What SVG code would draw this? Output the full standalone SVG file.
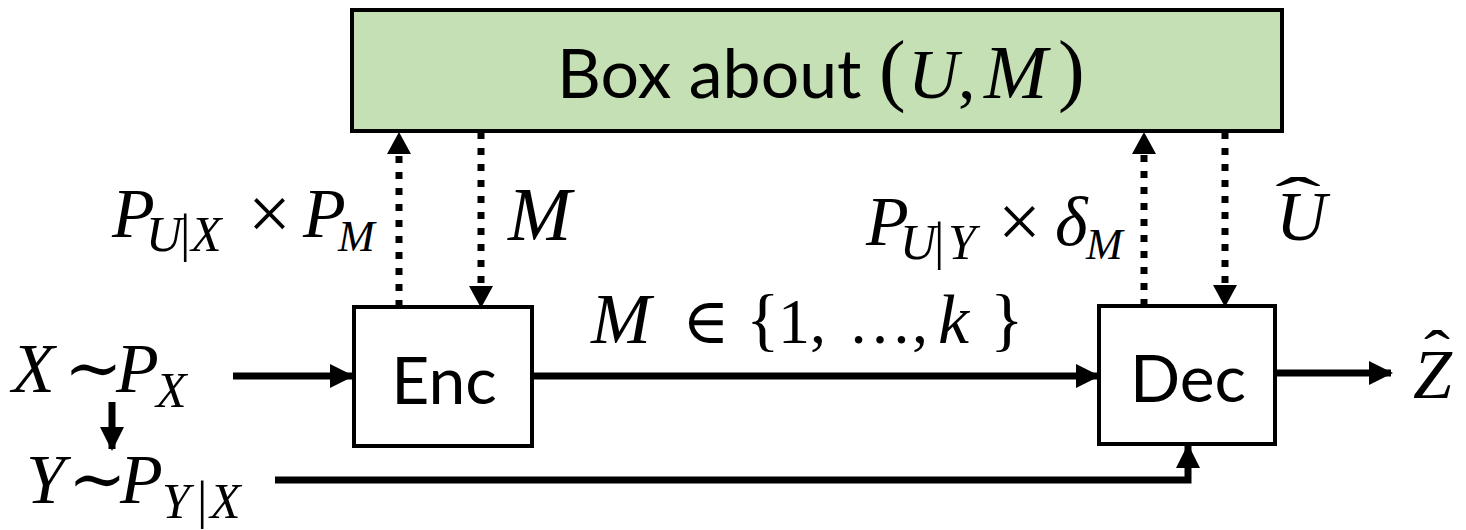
<svg xmlns="http://www.w3.org/2000/svg" width="1466" height="530" viewBox="0 0 1466 530">
<defs>
<style>
.box{fill:#ffffff;stroke:#000;stroke-width:4}
.sans{font-family:"Lato","Open Sans","DejaVu Sans",sans-serif;fill:#000}
.m{font-family:"Liberation Serif","DejaVu Serif",serif;font-style:italic;fill:#000}
.up{font-family:"Liberation Serif","DejaVu Serif",serif;font-style:normal;fill:#000}
.solid{stroke:#000;stroke-width:7;fill:none}
.dot{stroke:#000;stroke-width:7;fill:none;stroke-dasharray:7 9}
</style>
<marker id="ah" viewBox="0 0 24 24" refX="22" refY="12" markerWidth="24" markerHeight="24" markerUnits="userSpaceOnUse" orient="auto">
<path d="M0,0 L24,12 L0,24 Z" fill="#000"/>
</marker>
<marker id="ahd" viewBox="0 0 22 24" refX="21" refY="12" markerWidth="22" markerHeight="24" markerUnits="userSpaceOnUse" orient="auto">
<path d="M0,0 L22,12 L0,24 Z" fill="#000"/>
</marker>
</defs>

<g id="box-about">
<rect x="352" y="10" width="930" height="121" fill="#c5e0b4" stroke="#000" stroke-width="4"/>
<text x="557" y="98" class="sans" font-size="68">Box about</text>
<text x="879" y="96" class="up" font-size="80">(</text>
<text x="908" y="98" class="m" font-size="70">U</text>
<text x="958" y="98" class="up" font-size="70">,</text>
<text x="984" y="98" class="m" font-size="76">M</text>
<text x="1058" y="96" class="up" font-size="80">)</text>
</g>

<g id="enc">
<rect x="354" y="307" width="178" height="139" class="box"/>
<text x="444" y="404" class="sans" font-size="66" text-anchor="middle">Enc</text>
</g>

<g id="dec">
<rect x="1099" y="306" width="176" height="138" class="box"/>
<text x="1188" y="402" class="sans" font-size="66" text-anchor="middle">Dec</text>
</g>

<g id="source">
<text x="12" y="392" class="m" font-size="70">X</text>
<text x="64" y="392" class="up" font-size="70">∼</text>
<text x="116" y="392" class="m" font-size="70">P</text>
<text x="156" y="407" class="m" font-size="50">X</text>
</g>

<g id="side">
<text x="26" y="503" class="m" font-size="70">Y</text>
<text x="68" y="503" class="up" font-size="70">∼</text>
<text x="120" y="503" class="m" font-size="70">P</text>
<text x="162" y="518" class="m" font-size="50">Y</text>
<text x="197" y="518" class="up" font-size="52">|</text>
<text x="210" y="518" class="m" font-size="50">X</text>
</g>

<g id="output">
<text x="1413" y="398" class="m" font-size="70">Z</text>
<text transform="translate(1424,371) scale(1.3,1)" class="up" font-size="60">ˆ</text>
</g>

<g id="connectors">
<line x1="399" y1="307" x2="399" y2="133" class="dot" marker-end="url(#ahd)"/>
<line x1="481" y1="132" x2="481" y2="307" class="dot" marker-end="url(#ahd)"/>
<line x1="1144" y1="306" x2="1144" y2="133" class="dot" marker-end="url(#ahd)"/>
<line x1="1225" y1="132" x2="1225" y2="306" class="dot" marker-end="url(#ahd)"/>
<line x1="233" y1="376" x2="352" y2="376" class="solid" marker-end="url(#ah)"/>
<line x1="534" y1="376" x2="1098" y2="376" class="solid" marker-end="url(#ah)"/>
<line x1="1277" y1="373" x2="1391" y2="373" class="solid" marker-end="url(#ah)"/>
<line x1="112" y1="402" x2="112" y2="449" class="solid" marker-end="url(#ah)"/>
<polyline points="275,480 1188,480 1188,446" class="solid" marker-end="url(#ah)"/>
</g>

<g id="labels">
<text x="112" y="237" class="m" font-size="70">P</text>
<text x="146" y="251" class="m" font-size="50">U</text>
<text x="180" y="251" class="up" font-size="52">|</text>
<text x="191" y="251" class="m" font-size="50">X</text>
<text x="248" y="239" class="up" font-size="76">×</text>
<text x="303" y="237" class="m" font-size="70">P</text>
<text x="338" y="251" class="m" font-size="44">M</text>

<text x="508" y="240" class="m" font-size="76">M</text>

<text x="866" y="245" class="m" font-size="70">P</text>
<text x="900" y="259" class="m" font-size="50">U</text>
<text x="934" y="259" class="up" font-size="52">|</text>
<text x="948" y="259" class="m" font-size="50">Y</text>
<text x="998" y="247" class="up" font-size="76">×</text>
<text x="1055" y="245" class="m" font-size="70">δ</text>
<text x="1086" y="259" class="m" font-size="44">M</text>

<text x="1276" y="240" class="m" font-size="70">U</text>
<text transform="translate(1275,218) scale(2.3,1)" class="up" font-size="60">ˆ</text>

<text x="591" y="343" class="m" font-size="72">M</text>
<text x="682" y="343" class="up" font-size="64">∈</text>
<text x="746" y="343" class="up" font-size="70">{</text>
<text x="778" y="343" class="up" font-size="64">1,</text>
<text x="848" y="343" class="up" font-size="64">…,</text>
<text x="938" y="343" class="m" font-size="70">k</text>
<text x="990" y="343" class="up" font-size="70">}</text>
</g>
</svg>
